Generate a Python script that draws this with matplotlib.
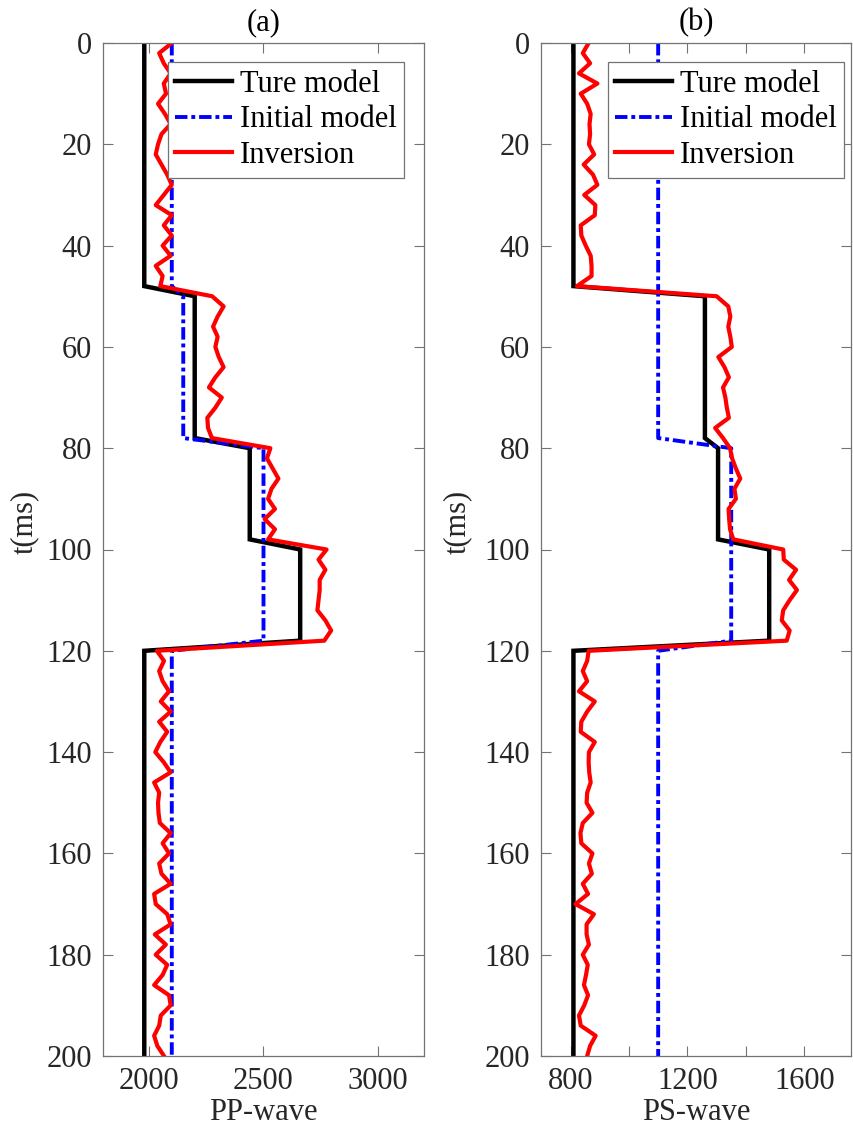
import numpy as np
import matplotlib
matplotlib.use("Agg")
import matplotlib.pyplot as plt
from matplotlib.ticker import FixedLocator

plt.rcParams['font.family'] = ['Liberation Serif', 'DejaVu Serif']
plt.rcParams['mathtext.fontset'] = 'stix'

# ---------------- data ----------------
t_start, t_stop, t_step = 0, 200, 2          # sampling of the traces (ms)

# layer sample counts (2 ms samples)
true_layer_counts = [25, 15, 10, 10, 41]      # 0-48, 50-78, 80-98, 100-118, 120-200
pp_true_layers = [1980, 2200, 2440, 2660, 1980]
ps_true_layers = [810, 1260, 1305, 1480, 810]

pp_init_counts = [25, 15, 20, 41]             # 0-48, 50-78, 80-118, 120-200
pp_init_layers = [2100, 2150, 2500, 2100]
ps_init_counts = [40, 20, 41]                 # 0-78, 80-118, 120-200
ps_init_layers = [1100, 1350, 1100]

pp_inversion = [
    2100, 2045, 2065, 2095, 2065, 2075, 2040, 2070, 2095, 2055,
    2040, 2030, 2055, 2080, 2100, 2065, 2030, 2100, 2065, 2100,
    2060, 2095, 2030, 2060, 2050,
    2276, 2326, 2300, 2280, 2300, 2290, 2305, 2326, 2290, 2262,
    2318, 2290, 2255, 2258, 2275,
    2530, 2515, 2540, 2565, 2535, 2520, 2550, 2505, 2550, 2520,
    2775, 2740, 2770, 2745, 2745, 2740, 2735, 2770, 2795, 2765,
    2035, 2066, 2045, 2060, 2088, 2052, 2095, 2045, 2080, 2050,
    2028, 2065, 2095, 2023, 2045, 2040, 2042, 2048, 2095, 2060,
    2088, 2045, 2055, 2095, 2023, 2030, 2080, 2095, 2026, 2074,
    2030, 2080, 2060, 2023, 2088, 2095, 2052, 2045, 2023, 2037,
    2066,
]
ps_inversion = [
    862, 842, 867, 829, 892, 835, 857, 869, 865, 867,
    863, 881, 845, 877, 892, 847, 885, 883, 835, 837,
    852, 869, 872, 872, 822,
    1300, 1340, 1347, 1340, 1347, 1352, 1306, 1327, 1342, 1322,
    1330, 1335, 1342, 1295, 1322,
    1346, 1353, 1366, 1381, 1361, 1366, 1341, 1343, 1346, 1357,
    1528, 1530, 1572, 1548, 1575, 1550, 1528, 1523, 1550, 1540,
    862, 857, 842, 857, 829, 883, 857, 837, 835, 883,
    863, 862, 864, 869, 857, 855, 875, 842, 834, 837,
    875, 863, 873, 842, 860, 817, 880, 855, 855, 863,
    842, 859, 853, 846, 860, 847, 829, 835, 886, 867,
    857,
]

legend_labels = ['Ture model', 'Initial model', 'Inversion']
titles = ['(a)', '(b)']
xlabels = ['PP-wave', 'PS-wave']
ylabel = 't(ms)'
pp_xticks = [2000, 2500, 3000]
ps_xticks = [800, 1200, 1600]
ps_minor_xticks = [1000, 1400]
yticks = list(range(0, 201, 20))

# ---------------- build series ----------------
t = np.arange(t_start, t_stop + t_step, t_step)
pp_true = np.repeat(pp_true_layers, true_layer_counts)
ps_true = np.repeat(ps_true_layers, true_layer_counts)
pp_init = np.repeat(pp_init_layers, pp_init_counts)
ps_init = np.repeat(ps_init_layers, ps_init_counts)

# ---------------- figure ----------------
W, H = 854, 1138
fig = plt.figure(figsize=(W / 100, H / 100), dpi=100)

ax_specs = [
    dict(rect=(103 / W, 1 - 1056 / H, 321 / W, 1013 / H), xlim=(1800, 3200),
         xticks=pp_xticks, minor=None, ylab_x=-0.200,
         true=pp_true, init=pp_init, inv=pp_inversion, leg=(404 / W, 1 - 62 / H)),
    dict(rect=(541.3 / W, 1 - 1056 / H, 309.7 / W, 1013 / H), xlim=(700, 1760),
         xticks=ps_xticks, minor=ps_minor_xticks, ylab_x=-0.225,
         true=ps_true, init=ps_init, inv=ps_inversion, leg=(844 / W, 1 - 62 / H)),
]

axis_gray = '#262626'
frame_gray = '0.45'
fs = 22

for i, spec in enumerate(ax_specs):
    ax = fig.add_axes(spec['rect'])
    ax.plot(spec['true'], t, color='black', lw=3.2, label=legend_labels[0],
            solid_joinstyle='miter')
    ax.plot(spec['init'], t, color='blue', lw=2.8, linestyle=(0, (3.2, 1.0, 1.0, 1.0)),
            label=legend_labels[1])
    ax.plot(spec['inv'], t, color='red', lw=3.0, label=legend_labels[2])

    ax.set_xlim(*spec['xlim'])
    ax.set_ylim(200, 0)
    ax.set_xticks(spec['xticks'])
    if spec['minor']:
        ax.xaxis.set_minor_locator(FixedLocator(spec['minor']))
    ax.set_yticks(yticks)
    ax.tick_params(which='both', direction='in', length=7, width=0.8,
                   color=frame_gray, top=True, right=True,
                   labelsize=fs, labelcolor=axis_gray, pad=8)
    for s in ax.spines.values():
        s.set_color(frame_gray)
        s.set_linewidth(0.9)

    ax.set_title(titles[i], fontsize=fs, color='black', pad=9)
    ax.set_xlabel(xlabels[i], fontsize=fs, color=axis_gray, labelpad=1)
    ax.set_ylabel(ylabel, fontsize=fs, color=axis_gray)
    ax.yaxis.set_label_coords(spec['ylab_x'], 0.527)

    leg = ax.legend(loc='upper right', bbox_to_anchor=spec['leg'],
                    bbox_transform=fig.transFigure, borderaxespad=0,
                    fontsize=fs, frameon=True, fancybox=False, framealpha=1,
                    edgecolor=frame_gray, handlelength=1.85, handletextpad=0.25,
                    labelspacing=0.22, borderpad=0.25)
    leg.get_frame().set_linewidth(0.9)

fig.savefig('out.png', dpi=100)
